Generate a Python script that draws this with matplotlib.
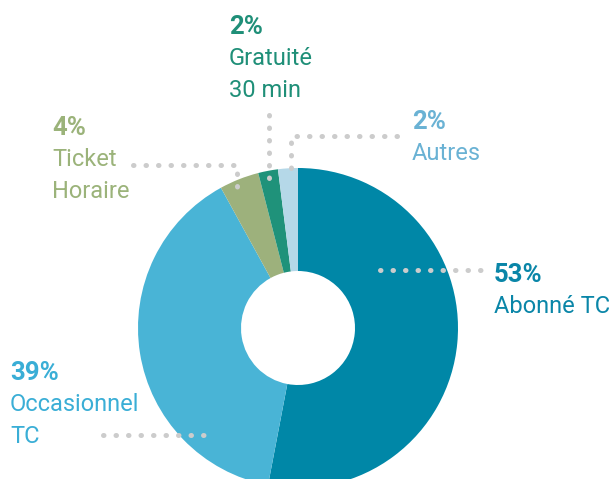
import matplotlib
matplotlib.use('Agg')
import matplotlib.pyplot as plt

# Data
labels = ['Abonné TC', 'Occasionnel TC', 'Ticket Horaire', 'Gratuité 30 min', 'Autres']
values = [53, 39, 4, 2, 2]
pct_text = ['53%', '39%', '4%', '2%', '2%']
name_lines = [['Abonné TC'], ['Occasionnel', 'TC'], ['Ticket', 'Horaire'], ['Gratuité', '30 min'], ['Autres']]

SLICE_COLORS = ['#0087a7', '#49b4d6', '#9db17c', '#1f927a', '#b5d8e8']
TEXT_COLORS = ['#0a86a8', '#3aaed6', '#9bb37a', '#1f8f78', '#6ab2d4']
DOT = '#cccccc'

W, H = 609, 479
fig = plt.figure(figsize=(W / 100, H / 100), dpi=100)
ax = fig.add_axes([0, 0, 1, 1])

def Y(py):
    return H - py

cx, cy, r_out, r_in = 298, 328, 160, 57
ax.pie(values, startangle=90, counterclock=False, colors=SLICE_COLORS,
       radius=r_out, center=(cx, Y(cy)),
       wedgeprops=dict(width=r_out - r_in, linewidth=0))

ax.set_xlim(0, W)
ax.set_ylim(0, H)
ax.set_aspect('equal')
ax.axis('off')

# dotted leader lines (pixel coords)
leaders = [
    [(380, 270), (482, 270)],
    [(103, 435), (208, 435)],
    [(133, 165), (237, 165), (237, 187)],
    [(269, 115), (269, 180)],
    [(397, 136), (291, 136), (291, 178)],
]
for pts in leaders:
    ax.plot([p[0] for p in pts], [Y(p[1]) for p in pts], color=DOT,
            linestyle=(0, (0.1, 2.4)), linewidth=3.6, dash_capstyle='round',
            solid_capstyle='round')

# label anchors: (x, baseline of percent line)
anchors = [(494, 282), (10, 380), (52, 135), (229, 34), (412, 129)]
FONT = ['Roboto', 'DejaVu Sans']
for i in range(len(values)):
    x, yb = anchors[i]
    ax.text(x, Y(yb), pct_text[i], color=TEXT_COLORS[i], fontsize=18.5,
            fontweight='bold', family=FONT, ha='left', va='baseline')
    for j, line in enumerate(name_lines[i]):
        ax.text(x, Y(yb + 31 + 32 * j), line, color=TEXT_COLORS[i], fontsize=17,
                family=FONT, ha='left', va='baseline')

fig.savefig('out.png', dpi=100, facecolor='white')
